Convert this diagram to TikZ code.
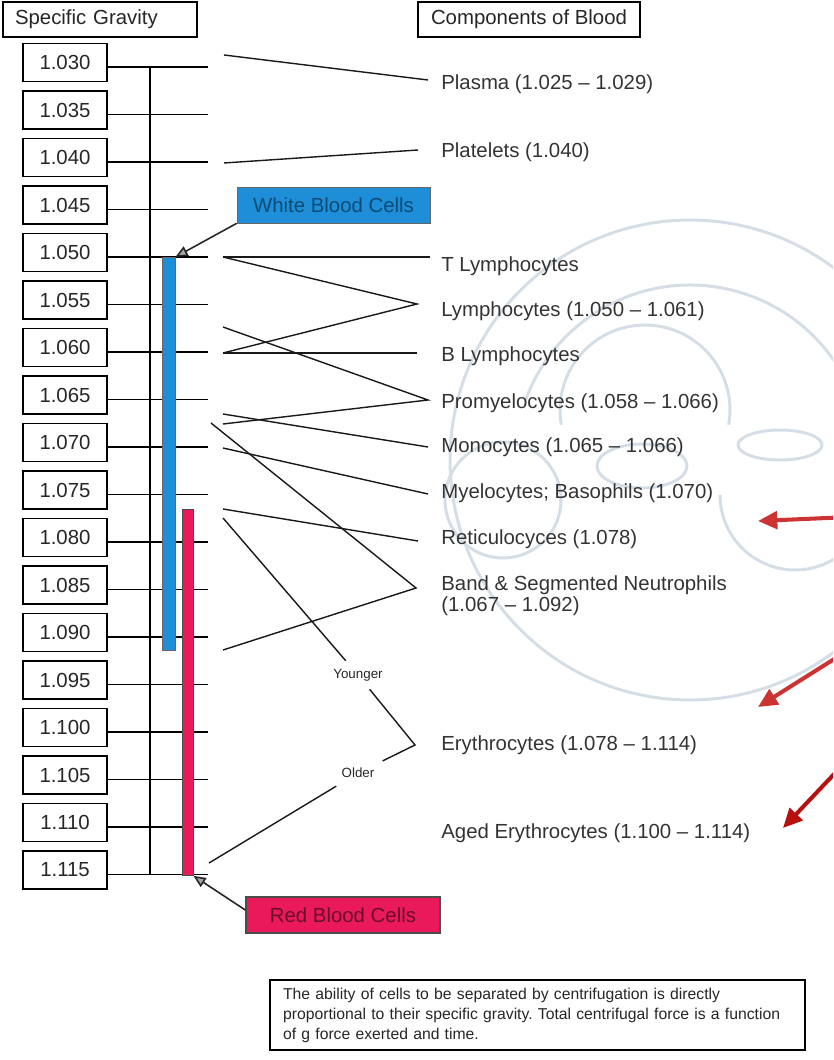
\documentclass[tikz,border=0pt]{standalone}
\usepackage{fontspec}
\setmainfont{Liberation Sans}
\usetikzlibrary{arrows.meta,positioning,calc}
\definecolor{wbcblue}{HTML}{1E8ED8}
\definecolor{wbctext}{HTML}{0E4B74}
\definecolor{rbcred}{HTML}{EA1A5A}
\definecolor{rbctext}{HTML}{6A0E28}
\definecolor{wmgray}{HTML}{D5DEE7}
\definecolor{markred}{HTML}{CC3333}
\definecolor{markdark}{HTML}{B80F0F}
\newcommand{\sgfont}{\fontsize{11.6}{12.2}\selectfont}
\newcommand{\sgsmall}{\fontsize{7.6}{9}\selectfont}
\newcommand{\sgnote}{\fontsize{8.95}{11.4}\selectfont\frenchspacing}
\tikzset{
  sgbox/.style={draw, line width=0.8pt, minimum width=1.68cm, minimum height=0.76cm, inner sep=0pt, font=\sgfont, text=black!85},
  sghead/.style={draw, line width=0.8pt, minimum height=0.7cm, inner sep=0pt, font=\sgfont, text=black!85},
  sgtick/.style={line width=0.7pt},
  cpline/.style={line width=0.8pt, black!90},
  cplabel/.style={anchor=west, inner sep=0pt, font=\sgfont, text=black!80, align=left},
  agelabel/.style={inner sep=4.5pt, font=\sgsmall, text=black!85},
  wbcbar/.style={draw=black!60, fill=wbcblue, line width=0.5pt, minimum width=0.26cm, inner sep=0pt, anchor=north},
  rbcbar/.style={draw=black!70, fill=rbcred, line width=0.5pt, minimum width=0.22cm, inner sep=0pt, anchor=north},
  wbcbox/.style={draw=black!60, fill=wbcblue, minimum width=3.86cm, minimum height=0.72cm, inner sep=0pt, font=\sgfont, text=wbctext},
  rbcbox/.style={draw=black!70, line width=0.8pt, fill=rbcred, minimum width=3.88cm, minimum height=0.72cm, inner sep=0pt, font=\sgfont, text=rbctext},
  ptrarrow/.style={-{Triangle[length=7pt, width=6pt, fill=black!35]}, line width=0.9pt, black!85},
  markarrow/.style={-{Triangle[length=11pt, width=10pt]}, line width=2.3pt},
  notebox/.style={draw, line width=0.8pt, text width=10.18cm, inner xsep=0.26cm, minimum height=1.4cm, align=left, font=\sgnote, text=black!85},
  wmline/.style={draw=wmgray, line width=1.7pt},
}

\begin{document}
\begin{tikzpicture}[x=0.02cm, y=-0.02cm]
  \useasboundingbox (0,0) rectangle (833,1060);
  \clip (0,0) rectangle (833,1060);

  % Faint watermark behind the labels
  \begin{scope}[wmline]
    \draw (690,460) circle[radius=4.8cm];
    \draw ([shift={(160:3.5cm)}]690,460) arc[start angle=160, end angle=20, radius=3.5cm];
    \draw ([shift={(190:1.7cm)}]645,410) arc[start angle=190, end angle=-10, radius=1.7cm];
    \draw (503,500) circle[radius=1.16cm];
    \draw ([shift={(180:1.5cm)}]795,495) arc[start angle=180, end angle=360, radius=1.5cm];
    \draw (780,445) ellipse[x radius=0.84cm, y radius=0.3cm];
    \draw (642,466) ellipse[x radius=0.9cm, y radius=0.44cm];
  \end{scope}

  % Headers
  \node[sghead, minimum width=3.88cm, text width=3.4cm, inner xsep=0.24cm, align=left] (hgrav) at (100,19.5) {Specific Gravity};
  \node[sghead, minimum width=4.44cm] (hcomp) at (529,19.5) {Components of Blood};

  % Specific gravity scale
  \foreach \v [count=\i from 0] in {030,035,040,045,050,055,060,065,070,075,080,085,090,095,100,105,110,115}{
    \pgfmathsetmacro{\yb}{62.5+47.5*\i}
    \node[sgbox] (g\v) at (65,\yb) {1.\v};
    \draw[sgtick] ([yshift=-0.09cm]g\v.east) -- ++(100,0);
  }
  \draw[sgtick] ([yshift=-0.09cm]g030.east -| 150,0) -- ([yshift=-0.09cm]g115.east -| 150,0);

  % Cell bars
  \node[wbcbar, minimum height=7.86cm] (wbar) at (168.5,257) {};
  \node[rbcbar, minimum height=7.32cm] (rbar) at (187.5,509) {};
  \node[wbcbox] (wbc) at (333.5,205) {White Blood Cells};
  \node[rbcbox] (rbc) at (343,915) {Red Blood Cells};
  \draw[ptrarrow] (wbc.south west) -- (wbar.north east);
  \draw[ptrarrow] ([yshift=0.1cm]rbc.west) -- (rbar.south east);

  % Components
  \node[cplabel] (plasma) at (441,84) {Plasma (1.025 – 1.029)};
  \node[cplabel] (plate) at (441,152) {Platelets (1.040)};
  \node[cplabel] (tlym) at (441,266) {T Lymphocytes};
  \node[cplabel] (lym) at (441,311) {Lymphocytes (1.050 – 1.061)};
  \node[cplabel] (blym) at (441,356) {B Lymphocytes};
  \node[cplabel] (promy) at (441,403) {Promyelocytes (1.058 – 1.066)};
  \node[cplabel] (mono) at (441,447) {Monocytes (1.065 – 1.066)};
  \node[cplabel] (myelo) at (441,493) {Myelocytes; Basophils (1.070)};
  \node[cplabel] (retic) at (441,539) {Reticulocyces (1.078)};
  \node[cplabel, font=\fontsize{11.6}{11.8}\selectfont] (band) at (441,596) {Band \& Segmented Neutrophils\\(1.067 – 1.092)};
  \node[cplabel] (ery) at (441,745) {Erythrocytes (1.078 – 1.114)};
  \node[cplabel] (aged) at (441,833) {Aged Erythrocytes (1.100 – 1.114)};
  \node[agelabel] (young) at (358,675) {Younger};
  \node[agelabel] (old) at (358,773) {Older};

  % Connector ends
  \coordinate (s1) at (224,55);   \coordinate (e1) at (428,80);
  \coordinate (s2) at (224,163);  \coordinate (e2) at (418,150);
  \coordinate (s3) at (223,257);  \coordinate (e3) at (430,257);
  \coordinate (e4) at (417,304);
  \coordinate (s5) at (223,353);  \coordinate (e5) at (417,353);
  \coordinate (s6) at (223,327);  \coordinate (e6) at (428,400);
  \coordinate (s7) at (223,424);
  \coordinate (s8) at (223,414);  \coordinate (e8) at (428,447);
  \coordinate (s9) at (223,448);  \coordinate (e9) at (428,494);
  \coordinate (s10) at (211,423); \coordinate (e10) at (416,588);
  \coordinate (s11) at (223,650);
  \coordinate (s12) at (223,509); \coordinate (e12) at (418,541);
  \coordinate (s13) at (223,518); \coordinate (e13) at (415,745);
  \coordinate (s14) at (209,863);

  \draw[cpline] (s1) -- (e1);
  \draw[cpline] (s2) -- (e2);
  \draw[cpline] (s3) -- (e3);
  \draw[cpline] (s3) -- (e4) -- (s5);
  \draw[cpline] (s5) -- (e5);
  \draw[cpline] (s6) -- (e6) -- (s7);
  \draw[cpline] (s8) -- (e8);
  \draw[cpline] (s9) -- (e9);
  \draw[cpline] (s10) -- (e10) -- (s11);
  \draw[cpline] (s12) -- (e12);
  \draw[cpline] (s13) -- (young) -- (e13) -- (old) -- (s14);

  % Red markers at the edge
  \coordinate (m1) at (850,517);  \coordinate (n1) at (758,521);
  \coordinate (m2) at (866,639);  \coordinate (n2) at (758,707);
  \coordinate (m3) at (855,752);  \coordinate (n3) at (783,828);
  \draw[markarrow, markred] (m1) -- (n1);
  \draw[markarrow, markred] (m2) -- (n2);
  \draw[markarrow, markdark] (m3) -- (n3);

  % Note
  \node[notebox] (note) at (537.5,1015) {The ability of cells to be separated by centrifugation is directly\\proportional to their specific gravity. Total centrifugal force is a function\\of g force exerted and time.};
\end{tikzpicture}
\end{document}
